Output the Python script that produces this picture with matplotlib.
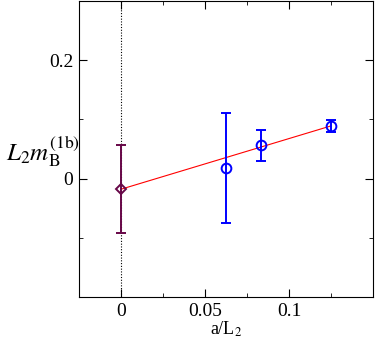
import numpy as np
import matplotlib
matplotlib.use('Agg')
import matplotlib.pyplot as plt
from matplotlib.ticker import MultipleLocator

plt.rcParams['font.family'] = ['Liberation Serif', 'DejaVu Serif']
plt.rcParams['mathtext.fontset'] = 'stix'

# data
x_cont = [0.0]
y_cont = [-0.018]
e_cont = [0.074]

x_lat = [0.0625, 0.0833, 0.125]
y_lat = [0.018, 0.056, 0.089]
e_lat = [0.093, 0.026, 0.010]

fit_x = [0.0, 0.125]
fit_y = [-0.018, 0.089]

fig = plt.figure(figsize=(3.76, 3.39), dpi=100)
ax = fig.add_axes([0.210, 0.124, 0.782, 0.873])

ax.axvline(0, color='black', ls=(0, (1, 1.5)), lw=0.8, zorder=1)
ax.plot(fit_x, fit_y, color='red', lw=0.8, zorder=2)

ax.errorbar(x_lat, y_lat, yerr=e_lat, fmt='o', color='blue', mfc='none',
            ms=7, mew=1.4, elinewidth=1.4, capsize=3.3, capthick=1.4, zorder=3)
ax.errorbar(x_cont, y_cont, yerr=e_cont, fmt='D', color='#670748', mfc='none',
            ms=5, mew=1.4, elinewidth=1.4, capsize=3.3, capthick=1.4, zorder=3)

ax.set_xlim(-0.025, 0.15)
ax.set_ylim(-0.2, 0.3)
ax.xaxis.set_minor_locator(MultipleLocator(0.025))
ax.yaxis.set_minor_locator(MultipleLocator(0.1))
ax.set_xticks([0, 0.05, 0.1])
ax.set_xticklabels(['0', '0.05', '0.1'])
ax.set_yticks([0, 0.2])
ax.set_yticklabels(['0', '0.2'])
ax.tick_params(which='both', direction='in', top=True, right=True, labelsize=14, pad=4)
ax.tick_params(which='major', length=6)
ax.tick_params(which='minor', length=3)

ax.set_xlabel(r'a/L$_2$', fontsize=13, labelpad=0)
fig.text(0.015, 0.555, r'$L_2m_{\rm B}^{\rm (1b)}$', fontsize=18, ha='left', va='center')

fig.savefig('out.png', dpi=100)
